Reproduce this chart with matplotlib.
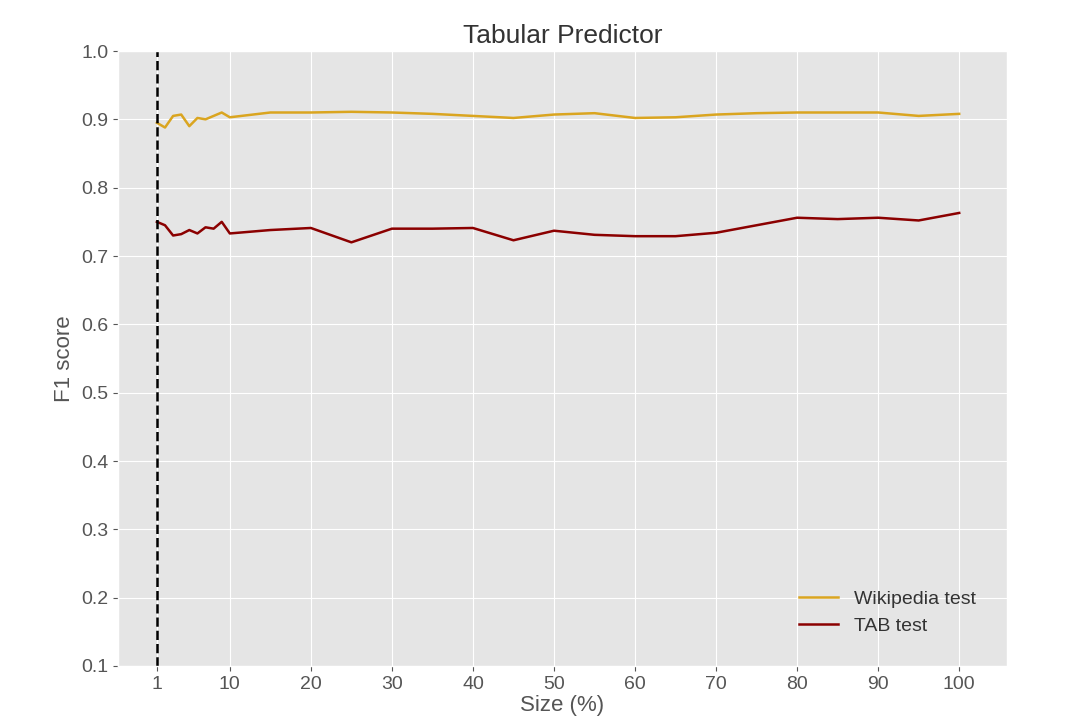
import matplotlib
matplotlib.use("Agg")
import matplotlib.pyplot as plt

sizes = [1,2,3,4,5,6,7,8,9,10,15,20,25,30,35,40,45,50,55,60,65,70,75,80,85,90,95,100]
wiki = [0.895,0.888,0.905,0.907,0.89,0.902,0.9,0.905,0.91,0.903,0.91,0.91,0.911,0.91,0.908,0.905,0.902,0.907,0.909,0.902,0.903,0.907,0.909,0.91,0.91,0.91,0.905,0.908]
tab = [0.75,0.745,0.73,0.732,0.738,0.733,0.742,0.74,0.75,0.733,0.738,0.741,0.72,0.74,0.74,0.741,0.723,0.737,0.731,0.729,0.729,0.734,0.745,0.756,0.754,0.756,0.752,0.763]
xticks = [1,10,20,30,40,50,60,70,80,90,100]
yticks = [0.1,0.2,0.3,0.4,0.5,0.6,0.7,0.8,0.9,1.0]

plt.style.use("ggplot")
plt.rcParams['font.family'] = ['Liberation Sans', 'DejaVu Sans']
fig = plt.figure(figsize=(10.8,7.27), dpi=100)
ax = fig.add_axes([118/1080, 1-666/727, (1007-118)/1080, (666-51)/727])
ax.plot(sizes, wiki, color="#DAA520", lw=1.8, label="Wikipedia test")
ax.plot(sizes, tab, color="#8B0000", lw=1.8, label="TAB test")
ax.axvline(1, color="black", ls="--", lw=1.8)
ax.set_xlim(-3.8, 105.9)
ax.set_ylim(0.1, 1.0)
ax.set_xticks(xticks)
ax.set_yticks(yticks)
ax.set_yticklabels([f"{v:.1f}" for v in yticks])
ax.tick_params(labelsize=14, colors="#555555")
ax.set_xlabel("Size (%)", fontsize=16, color="#555555", labelpad=2)
ax.set_ylabel("F1 score", fontsize=16, color="#555555")
ax.set_title("Tabular Predictor", fontsize=19, color="#333333")
leg = ax.legend(loc="lower right", fontsize=14, frameon=False, borderaxespad=1.2)
for t in leg.get_texts():
    t.set_color("#333333")
fig.savefig("out.png", dpi=100)
